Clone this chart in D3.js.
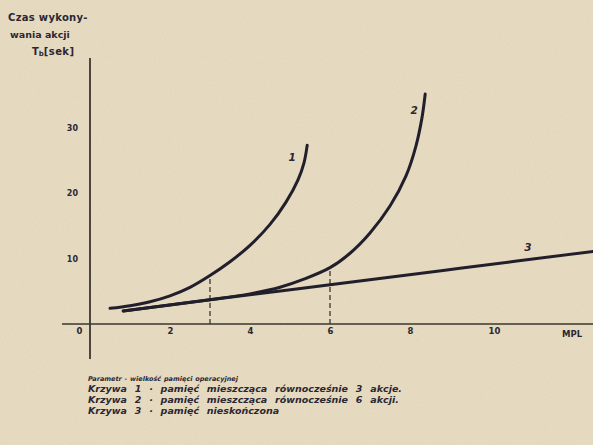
<!DOCTYPE html>
<html>
<head>
<meta charset="utf-8">
<script src="https://cdn.jsdelivr.net/npm/d3@7"></script>
<style>
  html, body { margin: 0; padding: 0; background: #e9dec3; }
  svg { display: block; }
  text { font-family: "DejaVu Sans", sans-serif; fill: #2b2733; }
</style>
</head>
<body>
<svg id="chart" width="593" height="445"></svg>
<script>
// Czas wykonania akcji w funkcji poziomu wieloprogramowości (MPL)
const xTicks = [0, 2, 4, 6, 8, 10];
const yTicks = [10, 20, 30];

// Krzywa 1 — pamięć mieszcząca równocześnie 3 akcje
const curve1 = [[0.5, 2.4], [1, 2.8], [1.5, 3.4], [2, 4.3], [2.5, 5.6], [3, 7.4],
                [3.5, 9.5], [4, 12], [4.5, 15.2], [4.9, 18.6], [5.2, 22],
                [5.35, 24.6], [5.43, 27.3]];
// Krzywa 2 — pamięć mieszcząca równocześnie 6 akcji
const curve2 = [[0.83, 2.0], [2, 2.9], [3, 3.7], [4, 4.6], [4.75, 5.6], [5.33, 6.8],
                [6, 8.6], [6.5, 10.8], [7, 13.9], [7.5, 18], [7.9, 22.6], [8.15, 27.2],
                [8.3, 31.5], [8.38, 35.1]];
// Krzywa 3 — pamięć nieskończona
const curve3 = [[0.83, 2.0], [3, 3.7], [6, 6.0], [9.25, 8.5], [12.6, 11.1]];

// pionowe linie przerywane: punkt nasycenia pamięci
const dropX = [3, 6];
const dropY = [7.4, 8.6];

const curveNames = ["1", "2", "3"];

const yTitle = ["Czas wykony-", "wania akcji"];
const legendHead = "Parametr - wielkość pamięci operacyjnej";
const legendLines = [
  "Krzywa 1 · pamięć mieszcząca równocześnie 3 akcje.",
  "Krzywa 2 · pamięć mieszcząca równocześnie 6 akcji.",
  "Krzywa 3 · pamięć nieskończona"
];

const svg = d3.select("#chart");

// lekka faktura papieru
const defs = svg.append("defs");
const f = defs.append("filter").attr("id", "grain").attr("x", 0).attr("y", 0)
  .attr("width", "100%").attr("height", "100%");
f.append("feTurbulence").attr("type", "fractalNoise").attr("baseFrequency", 0.9)
  .attr("numOctaves", 2).attr("seed", 4).attr("result", "n");
f.append("feColorMatrix").attr("type", "matrix")
  .attr("values", "0 0 0 0 0.55  0 0 0 0 0.48  0 0 0 0 0.36  0 0 0 0.22 0");
svg.append("rect").attr("width", 593).attr("height", 445).attr("fill", "#e9dec3");
svg.append("rect").attr("width", 593).attr("height", 445).attr("filter", "url(#grain)");

const x = d3.scaleLinear().domain([0, 12.6]).range([90, 594]);
const y = d3.scaleLinear().domain([0, 40.6]).range([324, 58]);

const ink = "#221f2c";
const axisInk = "#3b3631";

// oś X
svg.append("line").attr("x1", 62).attr("x2", 593)
  .attr("y1", y(0)).attr("y2", y(0))
  .attr("stroke", axisInk).attr("stroke-width", 1.6);
// oś Y
svg.append("line").attr("x1", x(0)).attr("x2", x(0))
  .attr("y1", y(40.6)).attr("y2", 359)
  .attr("stroke", axisInk).attr("stroke-width", 1.8);

// etykiety osi X
const xAxis = d3.axisBottom(x).tickValues(xTicks).tickSize(0).tickPadding(0)
  .tickFormat(d3.format("d"));
const gx = svg.append("g").attr("transform", `translate(0,${y(0) + 4})`).call(xAxis);
gx.select(".domain").remove();
gx.selectAll("text")
  .attr("font-family", "DejaVu Sans").attr("font-size", 8.5).attr("font-weight", "bold")
  .attr("fill", "#2b2733")
  .attr("dx", d => d === 0 ? -11 : (d === 10 ? 4 : 0));
svg.append("text").attr("x", 572).attr("y", y(0) + 13)
  .attr("text-anchor", "middle").attr("font-size", 8.5).attr("font-weight", "bold")
  .text("MPL");

// etykiety osi Y
const yAxis = d3.axisLeft(y).tickValues(yTicks).tickSize(0).tickPadding(12);
const gy = svg.append("g").attr("transform", `translate(${x(0)},0)`).call(yAxis);
gy.select(".domain").remove();
gy.selectAll("text")
  .attr("font-family", "DejaVu Sans").attr("font-size", 8).attr("font-weight", "bold")
  .attr("fill", "#2b2733");

// tytuł osi Y
svg.append("text").attr("x", 8).attr("y", 21).attr("font-size", 10).attr("font-weight", "bold")
  .attr("letter-spacing", 0.3).text(yTitle[0]);
svg.append("text").attr("x", 10).attr("y", 38).attr("font-size", 9.5).attr("font-weight", "bold")
  .attr("letter-spacing", 0).text(yTitle[1]);
const tb = svg.append("text").attr("x", 32).attr("y", 55).attr("font-size", 10).attr("font-weight", "bold");
tb.append("tspan").text("T");
tb.append("tspan").attr("font-size", 7).attr("dy", 1).text("b");
tb.append("tspan").attr("dy", -1).attr("letter-spacing", 0.4).text("[sek]");

// linie przerywane
svg.selectAll("line.drop").data(dropX).join("line").attr("class", "drop")
  .attr("x1", d => x(d)).attr("x2", d => x(d))
  .attr("y1", y(0)).attr("y2", (d, i) => y(dropY[i]))
  .attr("stroke", axisInk).attr("stroke-width", 1.3).attr("stroke-dasharray", "5,3");

// krzywe
const line = d3.line().x(d => x(d[0])).y(d => y(d[1])).curve(d3.curveCatmullRom.alpha(0.5));
const series = [curve1, curve2, curve3];
svg.selectAll("path.curve").data(series).join("path").attr("class", "curve")
  .attr("d", line).attr("fill", "none").attr("stroke", ink)
  .attr("stroke-width", 3).attr("stroke-linecap", "round");

// numery krzywych
const labelOffsets = [[-15, 16], [-11, 20], [-66, 0]];
series.forEach((s, i) => {
  const last = s[s.length - 1];
  svg.append("text")
    .attr("x", x(last[0]) + labelOffsets[i][0])
    .attr("y", y(last[1]) + labelOffsets[i][1])
    .attr("text-anchor", "middle").attr("font-size", 10.5).attr("font-weight", "bold")
    .attr("font-style", "italic")
    .text(curveNames[i]);
});

// legenda
svg.append("text").attr("x", 88).attr("y", 381)
  .attr("font-size", 6.5).attr("font-style", "italic").attr("font-weight", "bold")
  .attr("word-spacing", 0.5).text(legendHead);
svg.selectAll("text.legend").data(legendLines).join("text").attr("class", "legend")
  .attr("x", 88).attr("y", (d, i) => 392 + i * 11)
  .attr("font-size", 9.5).attr("font-style", "italic").attr("font-weight", "bold")
  .attr("word-spacing", 4.5)
  .text(d => d);
</script>
</body>
</html>
